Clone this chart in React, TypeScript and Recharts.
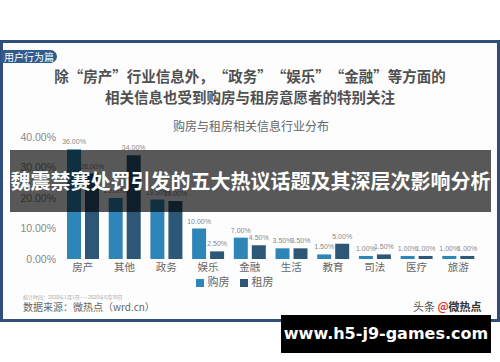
import { BarChart, Bar, XAxis, YAxis, Legend, LabelList } from 'recharts';

const categories = ['房产', '其他', '政务', '娱乐', '金融', '生活', '教育', '司法', '医疗', '旅游'];
const buyValues = [36, 20, 19.5, 10, 7, 3.5, 1.5, 1, 1, 1];
const rentValues = [28, 34, 19, 2.5, 4.5, 3.5, 5, 1.5, 1, 1];
const yTicks = [0, 10, 20, 30, 40];

const data = categories.map((c, i) => ({ name: c, buy: buyValues[i], rent: rentValues[i] }));

const CJK = '"Noto Sans CJK SC", "Noto Sans", sans-serif';
const pct = (v: number) => `${Number(v).toFixed(2)}%`;

// full-width quote marks
const Q = ({ open }: { open?: boolean }) => (
    <span style={{ display: 'inline-block', width: '1em', textAlign: open ? 'right' : 'left' }}>
        {open ? '“' : '”'}
    </span>
);

export default function App() {
    return (
        <div
            style={{
                position: 'relative',
                width: 500,
                height: 362,
                overflow: 'hidden',
                background: '#fff',
                fontFamily: CJK,
            }}
        >
            <style>{'body{margin:0}'}</style>

            {/* frame */}
            <div
                style={{
                    position: 'absolute',
                    left: 0,
                    top: 40,
                    width: 500,
                    height: 282,
                    boxSizing: 'border-box',
                    border: '3px solid #2f4f7a',
                    background: '#fdfdfd',
                }}
            />
            <div
                style={{
                    position: 'absolute',
                    left: 1,
                    top: 50,
                    padding: '0 3px',
                    height: 13,
                    lineHeight: '13px',
                    borderRadius: '0 7px 7px 0',
                    background: '#2f5c8f',
                    color: '#fff',
                    fontSize: 10,
                }}
            >
                用户行为篇
            </div>
            <div
                style={{
                    position: 'absolute',
                    left: 0,
                    top: 65,
                    width: 500,
                    textAlign: 'center',
                    fontSize: 14.5,
                    lineHeight: '21px',
                    fontWeight: 700,
                    color: '#505050',
                    whiteSpace: 'nowrap',
                }}
            >
                除<Q open />房产<Q />行业信息外，<Q open />政务<Q />
                <Q open />娱乐<Q />
                <Q open />金融<Q />等方面的
                <br />
                相关信息也受到购房与租房意愿者的特别关注
            </div>
            <div
                style={{
                    position: 'absolute',
                    left: 0,
                    top: 117,
                    width: 502,
                    textAlign: 'center',
                    fontSize: 12,
                    color: '#666',
                }}
            >
                购房与租房相关信息行业分布
            </div>

            <div style={{ position: 'absolute', left: 0, top: 0 }}>
                <BarChart
                    width={500}
                    height={300}
                    data={data}
                    margin={{ top: 137, right: 21, bottom: 11, left: 0 }}
                    barCategoryGap={5}
                    barGap={4}
                >
                    <XAxis
                        dataKey="name"
                        axisLine={false}
                        tickLine={false}
                        tickSize={3}
                        height={14}
                        interval={0}
                        tick={{ fill: '#666', fontSize: 10.5, fontFamily: CJK }}
                    />
                    <YAxis
                        width={62}
                        domain={[0, 40]}
                        ticks={yTicks}
                        axisLine={false}
                        tickLine={false}
                        tickSize={4}
                        tickFormatter={pct}
                        tick={{ fill: '#888', fontSize: 10.5, fontFamily: 'Liberation Sans, Arial' }}
                    />
                    <Legend
                        iconType="square"
                        iconSize={8}
                        itemSorter="dataKey"
                        wrapperStyle={{ fontSize: 11, fontFamily: CJK }}
                        formatter={v => <span style={{ color: '#666' }}>{v}</span>}
                    />
                    <Bar dataKey="buy" name="购房" fill="#2e86b8" isAnimationActive={false}>
                        <LabelList
                            dataKey="buy"
                            position="top"
                            formatter={pct}
                            style={{ fill: '#888', fontSize: 7, fontFamily: 'Liberation Sans, Arial' }}
                        />
                    </Bar>
                    <Bar dataKey="rent" name="租房" fill="#2c5777" isAnimationActive={false}>
                        <LabelList
                            dataKey="rent"
                            position="top"
                            formatter={pct}
                            style={{ fill: '#888', fontSize: 7, fontFamily: 'Liberation Sans, Arial' }}
                        />
                    </Bar>
                </BarChart>
            </div>

            <div
                style={{
                    position: 'absolute',
                    left: 23,
                    top: 293,
                    fontSize: 5,
                    color: '#aaa',
                    whiteSpace: 'nowrap',
                }}
            >
                统计时间：2020年1月1日——2020年6月30日
            </div>
            <div
                style={{
                    position: 'absolute',
                    left: 23,
                    top: 299,
                    fontSize: 10,
                    color: '#666',
                    whiteSpace: 'nowrap',
                }}
            >
                数据来源：微热点（wrd.cn）
            </div>
            <div
                style={{
                    position: 'absolute',
                    left: 413,
                    top: 298,
                    fontSize: 11,
                    color: '#555',
                    whiteSpace: 'nowrap',
                }}
            >
                头条 <span style={{ color: '#d33', fontWeight: 700 }}>@</span>
                <span style={{ fontWeight: 700, color: '#333' }}>微热点</span>
            </div>

            {/* overlay banner */}
            <div
                style={{
                    position: 'absolute',
                    left: 10,
                    top: 150,
                    width: 481,
                    height: 62,
                    background: 'rgba(0,0,0,0.65)',
                    color: '#fff',
                    fontSize: 20,
                    fontWeight: 700,
                    lineHeight: '62px',
                    textAlign: 'center',
                    whiteSpace: 'nowrap',
                    overflow: 'hidden',
                }}
            >
                魏震禁赛处罚引发的五大热议话题及其深层次影响分析
            </div>

            <div
                style={{
                    position: 'absolute',
                    left: 281,
                    top: 315,
                    width: 210,
                    height: 38,
                    background: '#000',
                    color: '#fff',
                    fontFamily: '"DejaVu Sans", sans-serif',
                    fontSize: 16,
                    fontWeight: 700,
                    lineHeight: '38px',
                    textAlign: 'center',
                }}
            >
                www.h5-j9-games.com
            </div>
        </div>
    );
}
